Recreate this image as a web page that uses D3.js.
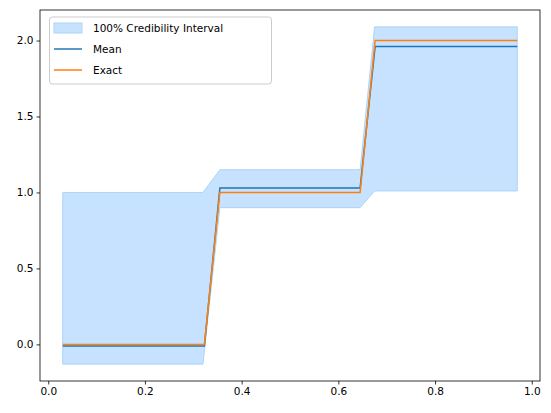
<!DOCTYPE html>
<html><head><meta charset="utf-8">
<script src="https://cdn.jsdelivr.net/npm/d3@7"></script>
<style>body{margin:0;background:#fff}text{font-family:"DejaVu Sans",sans-serif}</style>
</head><body><svg id="c" width="551" height="413"></svg>
<script>
const xs = [0.03, 0.32, 0.355, 0.645, 0.675, 0.97];
const lower = [-0.13, -0.13, 0.90, 0.90, 1.01, 1.01];
const upper = [1.00, 1.00, 1.15, 1.15, 2.09, 2.09];
const meanX = [0.03, 0.323, 0.355, 0.645, 0.676, 0.97];
const meanY = [-0.01, -0.01, 1.03, 1.03, 1.96, 1.96];
const exactY = [0, 0, 1, 1, 2, 2];
const xTicks = [0, 0.2, 0.4, 0.6, 0.8, 1.0];
const yTicks = [0, 0.5, 1.0, 1.5, 2.0];

const svg = d3.select("#c");
const L=40,R=540,T=10,B=381;
const x = d3.scaleLinear().domain([-0.017,1.017]).range([L,R]);
const y = d3.scaleLinear().domain([-0.241,2.201]).range([B,T]);

svg.append("path").datum(xs.map((v,i)=>[v,lower[i],upper[i]]))
  .attr("d", d3.area().x(d=>x(d[0])).y0(d=>y(d[1])).y1(d=>y(d[2])))
  .attr("fill","#c6e2ff").attr("stroke","#aed4f8").attr("stroke-width",1);
const line = d3.line().x(d=>x(d[0])).y(d=>y(d[1]));
svg.append("path").datum(meanX.map((v,i)=>[v,meanY[i]])).attr("d",line)
  .attr("fill","none").attr("stroke","#1f77b4").attr("stroke-width",1.5);
svg.append("path").datum(meanX.map((v,i)=>[v,exactY[i]])).attr("d",line)
  .attr("fill","none").attr("stroke","#ff7f0e").attr("stroke-width",1.5);

const xa = svg.append("g").attr("transform",`translate(0,${B})`)
  .call(d3.axisBottom(x).tickValues(xTicks).tickFormat(d3.format(".1f")).tickSize(3.5).tickPadding(3));
const ya = svg.append("g").attr("transform",`translate(${L},0)`)
  .call(d3.axisLeft(y).tickValues(yTicks).tickFormat(d3.format(".1f")).tickSize(3.5).tickPadding(3));
[xa,ya].forEach(a=>{a.select(".domain").remove();a.selectAll("text").attr("font-size",10.5).attr("fill","#000").style("font-family","DejaVu Sans");a.selectAll("line").attr("stroke","#000").attr("stroke-width",0.8);});
svg.append("rect").attr("x",L).attr("y",T).attr("width",R-L).attr("height",B-T)
  .attr("fill","none").attr("stroke","#000").attr("stroke-width",0.8);

const lg = svg.append("g");
lg.append("rect").attr("x",49.5).attr("y",17).attr("width",222).attr("height",67).attr("rx",3)
  .attr("fill","#fff").attr("fill-opacity",0.8).attr("stroke","#ccc");
const items=[["100% Credibility Interval","band"],["Mean","#1f77b4"],["Exact","#ff7f0e"]];
items.forEach((it,i)=>{
  const cy = 28+i*21;
  if(it[1]==="band") lg.append("rect").attr("x",54).attr("y",cy-5).attr("width",28).attr("height",10).attr("fill","#c6e2ff").attr("stroke","#aed4f8");
  else lg.append("line").attr("x1",54).attr("x2",82).attr("y1",cy).attr("y2",cy).attr("stroke",it[1]).attr("stroke-width",1.5);
  lg.append("text").attr("x",93).attr("y",cy+4).attr("font-size",10.5).text(it[0]);
});
</script></body></html>
